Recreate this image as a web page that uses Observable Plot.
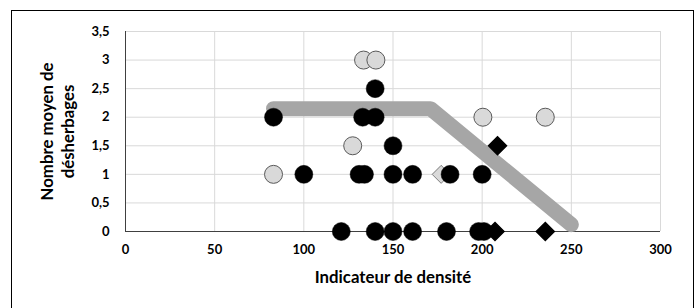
<!DOCTYPE html>
<html><head><meta charset="utf-8">
<script src="https://cdn.jsdelivr.net/npm/d3@7"></script>
<script src="https://cdn.jsdelivr.net/npm/@observablehq/plot@0.6"></script>
<style>
body{margin:0;background:#fff;}
#wrap{position:relative;width:699px;height:308px;overflow:hidden;}
#frame{position:absolute;left:11px;top:10px;width:683px;height:320px;border:1px solid #000;box-sizing:border-box;pointer-events:none;}
</style></head><body><div id="wrap"><div id="frame"></div></div>
<script>
// Data
const blackCircleX = [83, 133, 140, 140, 150, 100, 131, 134, 150, 161, 182, 200, 121, 140, 150, 161, 180, 198, 201];
const blackCircleY = [2, 2, 2, 2.5, 1.5, 1, 1, 1, 1, 1, 1, 1, 0, 0, 0, 0, 0, 0, 0];
const grayCircleX = [133.5, 140.4, 127.4, 83, 200.4, 235.4];
const grayCircleY = [3, 3, 1.5, 1, 2, 2];
const grayDiamondX = [177];
const grayDiamondY = [1];
const blackDiamondX = [208.6, 207.2, 235.4];
const blackDiamondY = [1.5, 0, 0];
const trendX = [83, 171, 250];
const trendY = [2.15, 2.15, 0.12];
const xTicks = [0, 50, 100, 150, 200, 250, 300];
const yTicks = [0, 0.5, 1, 1.5, 2, 2.5, 3, 3.5];
const xTitle = "Indicateur de densité";
const yTitle = "Nombre moyen de\ndésherbages";

const zip = (xs, ys) => xs.map((x, i) => ({x, y: ys[i]}));
const fmt = d => String(d).replace(".", ",");

const chart = Plot.plot({
  width: 699, height: 308,
  marginLeft: 125, marginRight: 39, marginTop: 31, marginBottom: 77,
  x: {domain: [0, 300]},
  y: {domain: [0, 3.5]},
  style: {fontFamily: "Lato, 'Open Sans', sans-serif", fontWeight: "bold", fontSize: "13px", color: "#000", background: "transparent"},
  marks: [
    Plot.gridX(xTicks, {stroke: "#d9d9d9", strokeOpacity: 1, strokeWidth: 1}),
    Plot.gridY(yTicks, {stroke: "#d9d9d9", strokeOpacity: 1, strokeWidth: 1}),
    Plot.axisX(xTicks, {tickSize: 0, tickPadding: 13, tickFormat: fmt, label: null}),
    Plot.axisY(yTicks, {tickSize: 0, tickPadding: 16, tickFormat: fmt, label: null}),
    Plot.ruleY([0], {stroke: "#404040", strokeWidth: 1}),
    Plot.ruleX([0], {stroke: "#404040", strokeWidth: 1}),
    Plot.line(zip(trendX, trendY), {x: "x", y: "y", stroke: "#a6a6a6", strokeWidth: 15, strokeLinecap: "round", strokeLinejoin: "round"}),
    Plot.dot(zip(grayDiamondX, grayDiamondY), {x: "x", y: "y", symbol: "diamond2", r: 8.1, fill: "#d9d9d9", stroke: "#595959", strokeWidth: 0.75}),
    Plot.dot(zip(blackCircleX, blackCircleY), {x: "x", y: "y", r: 9, fill: "#000", stroke: "#000", strokeWidth: 0.5}),
    Plot.dot(zip(grayCircleX, grayCircleY), {x: "x", y: "y", r: 9, fill: "#d9d9d9", stroke: "#595959", strokeWidth: 1}),
    Plot.dot(zip(blackDiamondX, blackDiamondY), {x: "x", y: "y", symbol: "diamond2", r: 8.1, fill: "#000", stroke: "#000"}),
    Plot.text([xTitle], {frameAnchor: "bottom", dy: 46, fontSize: 16.8, fontWeight: "bold", textAnchor: "middle", lineAnchor: "middle", fill: "#000"}),
    Plot.text([yTitle], {frameAnchor: "left", dx: -69, rotate: -90, fontSize: 16.8, fontWeight: "bold", textAnchor: "middle", lineAnchor: "middle", lineHeight: 1.3, fill: "#000"})
  ]
});
chart.style.position = "absolute";
chart.style.left = "0";
chart.style.top = "0";
document.getElementById("wrap").prepend(chart);
</script>
</body></html>
